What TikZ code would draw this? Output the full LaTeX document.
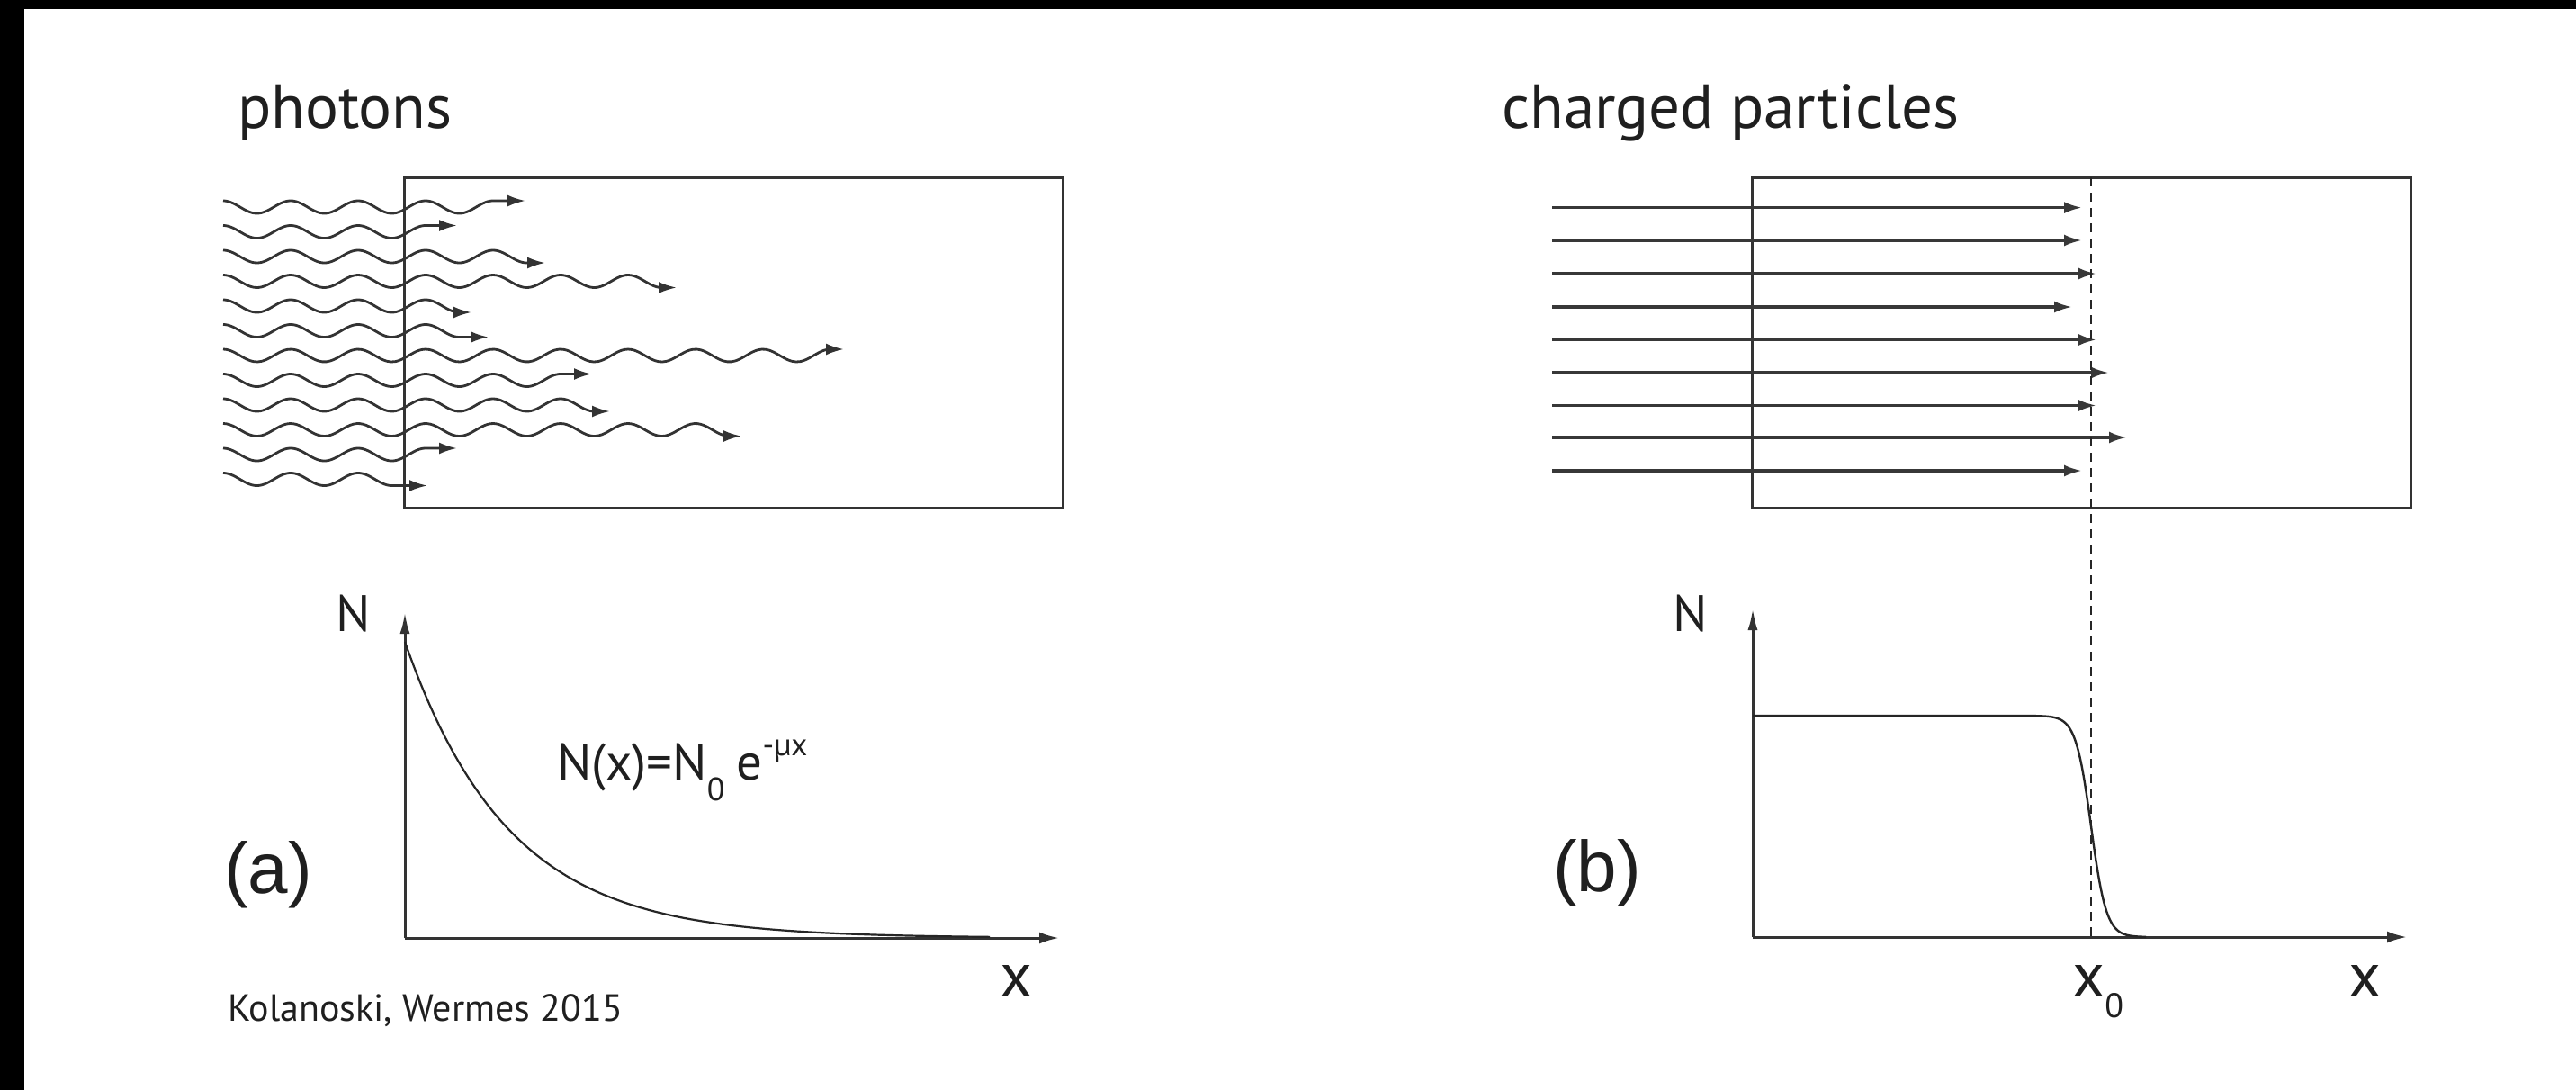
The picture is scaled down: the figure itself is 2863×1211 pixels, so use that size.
\documentclass[tikz,border=0pt]{standalone}
\usepackage{fontspec}
\usepackage{graphicx}
\setmainfont{PT Sans}
\newfontfamily\helv{Liberation Sans}
\usetikzlibrary{arrows.meta}
\newcommand\myfs[1]{\fontsize{#1}{#1}\selectfont}
\begin{document}
\begin{tikzpicture}[x=1pt,y=-1pt,
  lbl/.style={inner sep=0pt, anchor=base west, text=black!88},
  ln/.style={line width=3pt, draw=black!80},
  arr/.style={line width=3.4pt, draw=black!78},
  wave/.style={line width=2.8pt, draw=black!80},
  tip/.style={-{Latex[length=20pt,width=13pt]}},
  axtip/.style={-{Latex[length=24pt,width=11pt]}}]
\useasboundingbox (0,0) rectangle (2863,1211);
\fill[white] (0,0) rectangle (2863,1211);
\fill[black] (0,0) rectangle (2863,10);
\fill[black] (0,0) rectangle (27,1211);

% ---- (a) photons ----
\node[lbl] (photons) at (264,142) {\myfs{69}photons};
\draw[ln] (449,197) rectangle (1181,564);
\foreach \yy/\xw/\xt in {230/548/584, 257.5/473/508, 285/585.5/606, 312.5/735.5/752,
  340/510.5/524, 367.5/510.5/543, 395/923/938, 422.5/623/658, 450/660.5/678,
  477.5/810.5/824, 505/473/508, 532.5/435.5/475}{
  \draw[wave,tip] plot[domain=248:\xw, samples=160, smooth] (\x, {\yy - 7*cos((\x-248)*4.8)})
     -- (\xt, {\yy - 7*cos((\xw-248)*4.8)});
}
% plot (a)
\draw[ln,axtip] (450,1042) -- (450,680);
\draw[ln,-{Latex[length=22pt,width=13pt]}] (450,1042) -- (1177,1042);
\draw[line width=2.2pt, draw=black!85] plot[domain=450:1100, samples=160, smooth] (\x, {1042 - 329*exp(-(\x-450)/115)});
\node[lbl] (Na) at (373,701) {\myfs{57}N};
\node[lbl] (xa) at (1111,1107) {\myfs{70}x};
\node[lbl] (formula) at (619,866) {\myfs{57}N(x)=N\raisebox{-23pt}{\myfs{36}0}\hspace{13pt}e\raisebox{27pt}{\myfs{35}-µx}};
\node[lbl] (la) at (249,992) {\helv\myfs{80}(a)};
\node[lbl] (cite) at (253,1134) {\myfs{42}Kolanoski, Wermes 2015};

% ---- (b) charged particles ----
\node[lbl] (charged) at (1669,142) {\myfs{69}charged particles};
\draw[ln] (1947,197) rectangle (2679,564);
\foreach \yy/\xt in {230.6/2314, 267/2314, 304/2330, 341/2303, 377.5/2330, 414/2344, 450.5/2330, 486/2364, 523/2314}{
  \draw[arr,tip] (1725,\yy) -- (\xt,\yy);
}
\draw[line width=2pt, draw=black!85, dash pattern=on 10pt off 7pt] (2324,197) -- (2324,1041);
% plot (b)
\draw[ln,axtip] (1948,1041) -- (1948,676);
\draw[ln,-{Latex[length=22pt,width=13pt]}] (1948,1041) -- (2675,1041);
\draw[line width=2.4pt, draw=black!85] (1948,795) -- (2200,795)
  -- plot[domain=2200:2385, samples=185, smooth] (\x, {1041 - 246/(1+exp((\x-2324)/8.5))});
\node[lbl] (Nb) at (1859,701) {\myfs{57}N};
\node[lbl] (xb) at (2610,1107) {\myfs{70}x};
\node[lbl] (x0) at (2303,1107) {\myfs{70}x\raisebox{-23pt}{\myfs{38}0}};
\node[lbl] (lb) at (1726,990) {\helv\myfs{80}(b)};
\end{tikzpicture}
\end{document}
